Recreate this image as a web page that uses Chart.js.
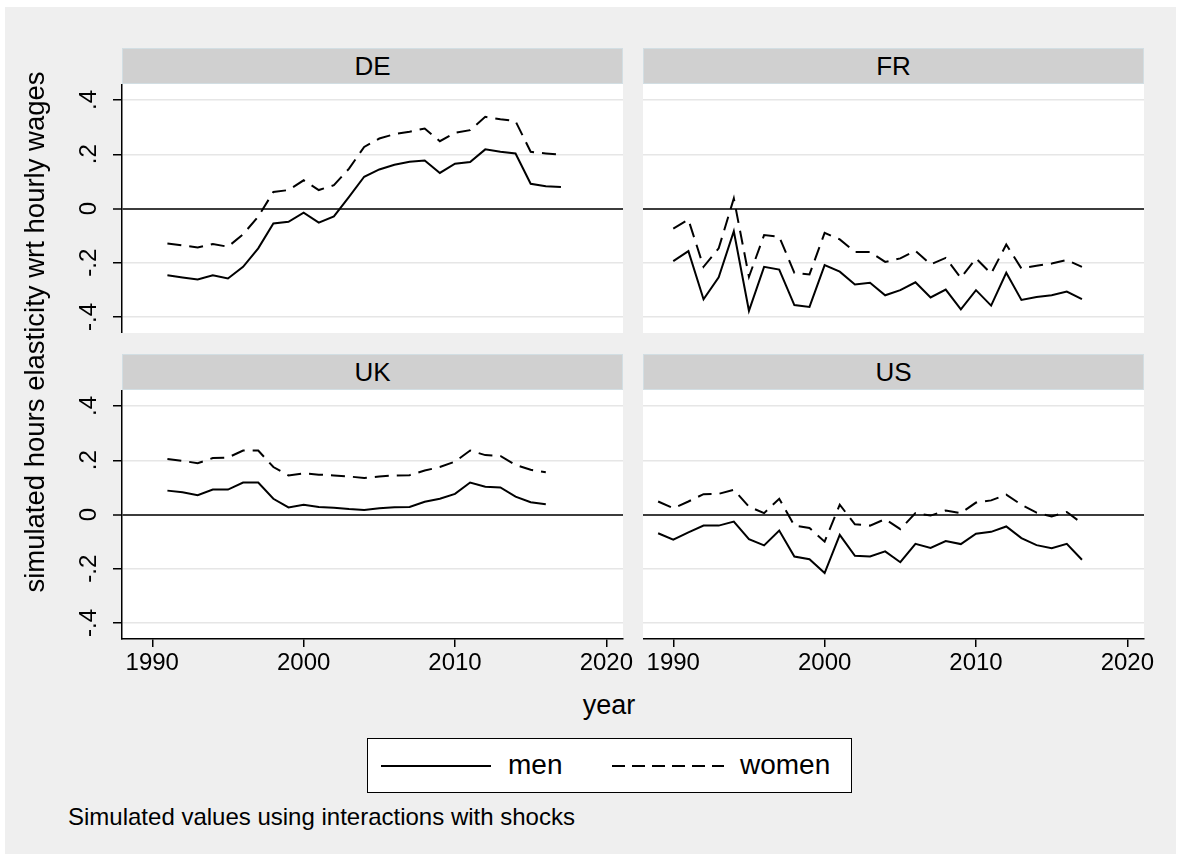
<!DOCTYPE html>
<html lang="en">
<head>
    <meta charset="UTF-8">
    <title>Simulated hours elasticity by country</title>
    <script src="https://cdn.jsdelivr.net/npm/chart.js"></script>
    <style>
        body {
            margin: 0;
            background: #ffffff;
            font-family: 'Liberation Sans', Arial, sans-serif;
            color: #000;
        }
        #frame {
            position: absolute;
            left: 5px; top: 7px;
            width: 1171px; height: 847px;
            background: #efefef;
        }
        .strip {
            position: absolute;
            box-sizing: border-box;
            height: 36px;
            background: #d0d0d0;
            border: 1px solid #d2dee3;
            font-size: 26px;
            line-height: 34px;
            text-align: center;
        }
        .panel { position: absolute; }
        .txt { position: absolute; white-space: nowrap; }
    </style>
</head>
<body>
    <div id="frame"></div>

    <div class="strip" style="left:122px; top:48px; width:501px;">DE</div>
    <div class="strip" style="left:643px; top:48px; width:501px;">FR</div>
    <div class="strip" style="left:122px; top:354px; width:501px;">UK</div>
    <div class="strip" style="left:643px; top:354px; width:501px;">US</div>

    <div class="panel" style="left:40px; top:84px; width:603px; height:249px;"><canvas id="deChart"></canvas></div>
    <div class="panel" style="left:643px; top:84px; width:521px; height:249px;"><canvas id="frChart"></canvas></div>
    <div class="panel" style="left:40px; top:390px; width:603px; height:294px;"><canvas id="ukChart"></canvas></div>
    <div class="panel" style="left:643px; top:390px; width:521px; height:294px;"><canvas id="usChart"></canvas></div>

    <!-- axis titles -->
    <div class="txt" style="left:-265px; top:317px; width:600px; height:30px; line-height:30px; font-size:27.5px; text-align:center; transform:rotate(-90deg);">simulated hours elasticity wrt hourly wages</div>
    <div class="txt" style="left:509px; top:690px; width:200px; line-height:30px; font-size:27px; text-align:center;">year</div>

    <!-- legend -->
    <div class="txt" style="left:367px; top:738px; width:485px; height:55px; box-sizing:border-box; border:1px solid #000; background:#fff;">
        <svg style="position:absolute; left:0; top:0;" width="483" height="53">
            <line x1="13" y1="27" x2="123" y2="27" stroke="#000" stroke-width="2"/>
            <line x1="244" y1="27" x2="356" y2="27" stroke="#000" stroke-width="2" stroke-dasharray="13 7"/>
        </svg>
        <span class="txt" style="left:140px; top:10px; font-size:28px; line-height:32px;">men</span>
        <span class="txt" style="left:372px; top:10px; font-size:28px; line-height:32px;">women</span>
    </div>

    <div class="txt" style="left:68px; top:803px; font-size:24px; line-height:28px;">Simulated values using interactions with shocks</div>

    <script>
        // years covered by the panels
        const years = [1989, 1990, 1991, 1992, 1993, 1994, 1995, 1996, 1997, 1998, 1999, 2000, 2001, 2002, 2003,
                       2004, 2005, 2006, 2007, 2008, 2009, 2010, 2011, 2012, 2013, 2014, 2015, 2016, 2017];

        const deMen = [null, null, -0.246, -0.254, -0.262, -0.246, -0.258, -0.215, -0.147, -0.055, -0.049, -0.015, -0.052, -0.029, 0.043,
                       0.117, 0.144, 0.161, 0.172, 0.177, 0.131, 0.165, 0.171, 0.218, 0.209, 0.203, 0.091, 0.082, 0.079];
        const deWomen = [null, null, -0.129, -0.136, -0.144, -0.131, -0.141, -0.095, -0.030, 0.061, 0.068, 0.104, 0.068, 0.086, 0.147,
                         0.227, 0.258, 0.274, 0.283, 0.295, 0.248, 0.279, 0.289, 0.338, 0.329, 0.322, 0.209, 0.203, 0.198];

        const frMen = [null, -0.194, -0.157, -0.335, -0.254, -0.084, -0.377, -0.215, -0.225, -0.356, -0.363, -0.209, -0.233, -0.280, -0.274,
                       -0.320, -0.301, -0.272, -0.328, -0.299, -0.372, -0.301, -0.358, -0.237, -0.337, -0.326, -0.320, -0.306, -0.334];
        const frWomen = [null, -0.074, -0.041, -0.215, -0.147, 0.037, -0.252, -0.098, -0.104, -0.237, -0.243, -0.090, -0.114, -0.160, -0.160,
                         -0.197, -0.184, -0.156, -0.206, -0.182, -0.256, -0.184, -0.240, -0.133, -0.221, -0.211, -0.203, -0.190, -0.215];

        const ukMen = [null, null, 0.088, 0.082, 0.071, 0.092, 0.092, 0.118, 0.118, 0.058, 0.026, 0.036, 0.028, 0.025, 0.020,
                       0.017, 0.023, 0.027, 0.028, 0.047, 0.058, 0.076, 0.118, 0.102, 0.100, 0.066, 0.045, 0.038, null];
        const ukWomen = [null, null, 0.205, 0.198, 0.189, 0.208, 0.210, 0.236, 0.236, 0.175, 0.144, 0.152, 0.147, 0.144, 0.140,
                         0.135, 0.140, 0.144, 0.145, 0.162, 0.175, 0.195, 0.236, 0.219, 0.216, 0.183, 0.165, 0.156, null];

        const usMen = [-0.069, -0.093, -0.066, -0.041, -0.041, -0.026, -0.091, -0.114, -0.059, -0.155, -0.165, -0.216, -0.075, -0.152, -0.155,
                       -0.136, -0.176, -0.108, -0.123, -0.098, -0.109, -0.071, -0.064, -0.044, -0.087, -0.113, -0.124, -0.108, -0.167];
        const usWomen = [0.048, 0.023, 0.048, 0.075, 0.076, 0.091, 0.029, 0.005, 0.058, -0.041, -0.050, -0.100, 0.036, -0.036, -0.041,
                         -0.017, -0.054, 0.005, -0.004, 0.015, 0.005, 0.044, 0.052, 0.073, 0.036, 0.007, -0.007, 0.009, -0.032];

        const xTicks = [1990, 2000, 2010, 2020];
        const yTicks = [-0.4, -0.2, 0, 0.2, 0.4];
        const yTickLabels = ['-.4', '-.2', '0', '.2', '.4'];

        const FONT = "'Liberation Sans', Arial, sans-serif";

        const toPoints = arr => years.map((yr, i) => ({ x: yr, y: arr[i] })).filter(p => p.y !== null);

        // white plot region like Stata's plotregion
        const plotBg = {
            id: 'plotBg',
            beforeDraw(chart) {
                const a = chart.chartArea;
                const ctx = chart.ctx;
                ctx.save();
                ctx.fillStyle = '#ffffff';
                ctx.fillRect(a.left, a.top, a.right - a.left, a.bottom - a.top);
                ctx.restore();
            }
        };

        function makePanel(id, men, women, showYLabels, showXAxis) {
            new Chart(document.getElementById(id), {
                type: 'line',
                data: {
                    datasets: [
                        { label: 'men', data: toPoints(men), borderColor: '#000', borderWidth: 2, pointRadius: 0, tension: 0 },
                        { label: 'women', data: toPoints(women), borderColor: '#000', borderWidth: 2, borderDash: [14, 8], pointRadius: 0, tension: 0 }
                    ]
                },
                options: {
                    responsive: true,
                    maintainAspectRatio: false,
                    animation: false,
                    events: [],
                    layout: { padding: { left: 0, top: 0, right: 20, bottom: 0 } },
                    plugins: { legend: { display: false }, tooltip: { enabled: false } },
                    scales: {
                        x: {
                            type: 'linear',
                            min: 1988,
                            max: 2021.1,
                            display: showXAxis,
                            afterBuildTicks: s => { s.ticks = xTicks.map(v => ({ value: v })); },
                            afterFit: s => {
                                s.height = showXAxis ? 45 : 0;
                                s.paddingLeft = 0;
                                s.paddingRight = 0;
                            },
                            border: { display: true, color: '#000', width: 1.5 },
                            grid: { drawOnChartArea: false, drawTicks: true, tickLength: 8, color: '#000', lineWidth: 1.5 },
                            ticks: {
                                padding: 2,
                                maxRotation: 0,
                                autoSkip: false,
                                color: '#000',
                                font: { family: FONT, size: 24 },
                                callback: v => String(v)
                            }
                        },
                        y: {
                            min: -0.459,
                            max: 0.459,
                            afterBuildTicks: s => { s.ticks = yTicks.map(v => ({ value: v })); },
                            afterFit: s => {
                                s.width = showYLabels ? 82 : 0;
                                s.paddingTop = 0;
                                s.paddingBottom = 0;
                            },
                            border: { display: showYLabels, color: '#000', width: 1.5 },
                            grid: {
                                drawTicks: showYLabels,
                                tickLength: 9,
                                tickColor: '#000',
                                tickWidth: 1.5,
                                color: c => (c.tick && c.tick.value === 0) ? '#3c3c3c' : '#e6e6e6',
                                lineWidth: c => (c.tick && c.tick.value === 0) ? 2 : 1.5
                            },
                            ticks: {
                                display: showYLabels,
                                minRotation: 90,
                                maxRotation: 90,
                                crossAlign: 'center',
                                padding: 10,
                                autoSkip: false,
                                color: '#000',
                                font: { family: FONT, size: 24 },
                                callback: (v, i) => yTickLabels[i]
                            }
                        }
                    }
                },
                plugins: [plotBg]
            });
        }

        makePanel('deChart', deMen, deWomen, true, false);
        makePanel('frChart', frMen, frWomen, false, false);
        makePanel('ukChart', ukMen, ukWomen, true, true);
        makePanel('usChart', usMen, usWomen, false, true);
    </script>
</body>
</html>
